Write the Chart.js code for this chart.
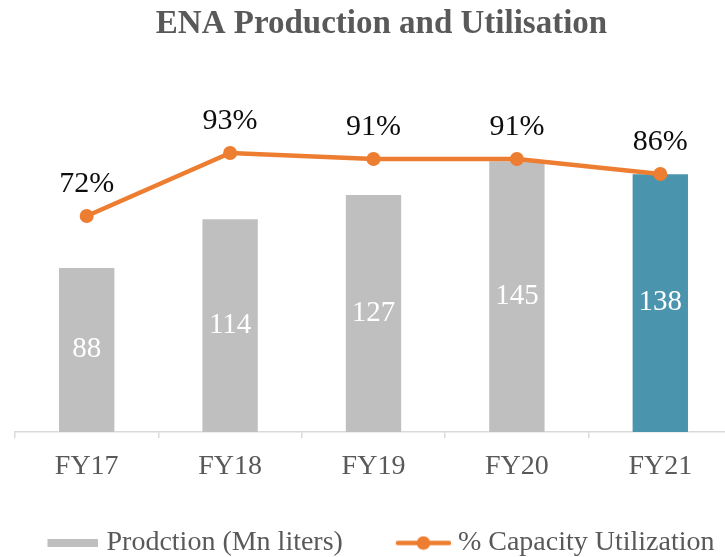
<!DOCTYPE html>
<html>
<head>
<meta charset="utf-8">
<script src="https://cdn.jsdelivr.net/npm/chart.js@4/dist/chart.umd.min.js"></script>
<style>
  html, body { margin: 0; padding: 0; background: #ffffff; }
  #wrap { width: 725px; height: 557px; overflow: hidden; position: relative; }
  #c { display: block; }
</style>
</head>
<body>
<div id="wrap"><canvas id="c" width="763" height="567" style="width:763px;height:567px"></canvas></div>
<script>
// ---- data ----
const categories = ['FY17', 'FY18', 'FY19', 'FY20', 'FY21'];
const production = [88, 114, 127, 145, 138];
const utilisation = [72, 93, 91, 91, 86];
const seriesNames = ['Prodction (Mn liters)', '% Capacity Utilization'];
const chartTitle = 'ENA Production and Utilisation';

// ---- styles ----
const FONT = "'Liberation Serif', 'Times New Roman', serif";
const GRAY = '#BFBFBF';
const TEAL = '#4A94AE';
const ORANGE = '#ED7D31';
const TEXT = '#595959';

// legend swatches (transparent left margin shifts the visible mark toward its text)
function makeBarSwatch() {
  const c = document.createElement('canvas');
  c.width = 88; c.height = 8;
  const x = c.getContext('2d');
  x.fillStyle = GRAY; x.fillRect(37, 0, 51, 8);
  return c;
}
function makeLineSwatch() {
  const c = document.createElement('canvas');
  c.width = 90; c.height = 15;
  const x = c.getContext('2d');
  x.strokeStyle = ORANGE; x.lineWidth = 4.5; x.lineCap = 'round';
  x.beginPath(); x.moveTo(37, 7.5); x.lineTo(88, 7.5); x.stroke();
  x.fillStyle = ORANGE;
  x.beginPath(); x.arc(62.5, 7.5, 6.8, 0, Math.PI * 2); x.fill();
  return c;
}
const swatches = [makeBarSwatch(), makeLineSwatch()];

// nudge the legend row left so it sits where the original did
const legendShift = {
  id: 'legendShift',
  afterLayout(chart) {
    const lg = chart.legend;
    if (lg) { lg.left -= 16; lg.right -= 16; }
  }
};

const labelPlugin = {
  id: 'valueLabels',
  afterDatasetsDraw(chart) {
    const ctx = chart.ctx;
    ctx.save();
    ctx.textAlign = 'center';
    ctx.textBaseline = 'middle';
    const barMeta = chart.getDatasetMeta(0);
    ctx.font = `29px ${FONT}`;
    ctx.fillStyle = '#FFFFFF';
    barMeta.data.forEach((el, i) => {
      ctx.fillText(String(production[i]), el.x, (el.y + el.base) / 2);
    });
    const lineMeta = chart.getDatasetMeta(1);
    ctx.font = `30px ${FONT}`;
    ctx.fillStyle = '#0D0D0D';
    lineMeta.data.forEach((el, i) => {
      ctx.fillText(utilisation[i] + '%', el.x, el.y - 32);
    });
    ctx.restore();
  }
};

new Chart(document.getElementById('c'), {
  type: 'bar',
  data: {
    labels: categories,
    datasets: [
      {
        type: 'bar',
        label: seriesNames[0],
        data: production,
        yAxisID: 'y',
        backgroundColor: (c) => (c.dataIndex === categories.length - 1 ? TEAL : GRAY),
        borderColor: 'rgba(255,255,255,0.35)',
        borderWidth: 1,
        categoryPercentage: 1.0,
        barPercentage: 0.4,
        order: 2
      },
      {
        type: 'line',
        label: seriesNames[1],
        data: utilisation,
        yAxisID: 'y1',
        borderColor: ORANGE,
        backgroundColor: ORANGE,
        borderWidth: 4.5,
        pointRadius: 7,
        pointHoverRadius: 7,
        pointBackgroundColor: ORANGE,
        pointBorderColor: ORANGE,
        pointBorderWidth: 0,
        tension: 0,
        order: 1
      }
    ]
  },
  options: {
    responsive: false,
    animation: false,
    devicePixelRatio: 1,
    layout: { padding: 0 },
    plugins: {
      tooltip: { enabled: false },
      title: {
        display: true,
        text: chartTitle,
        color: TEXT,
        font: { family: FONT, size: 33, weight: 'bold' },
        padding: { top: 5, bottom: 87.4 }
      },
      legend: {
        display: true,
        position: 'bottom',
        labels: {
          color: TEXT,
          font: { family: FONT, size: 28 },
          usePointStyle: true,
          pointStyleWidth: 76,
          padding: 25,
          generateLabels: () => seriesNames.map((t, i) => ({
            text: t,
            pointStyle: swatches[i],
            fillStyle: i === 0 ? GRAY : ORANGE,
            strokeStyle: i === 0 ? GRAY : ORANGE,
            lineWidth: 0,
            hidden: false,
            datasetIndex: i,
            fontColor: TEXT
          }))
        }
      }
    },
    scales: {
      x: {
        type: 'category',
        offset: true,
        grid: {
          offset: true,
          drawOnChartArea: false,
          drawTicks: true,
          tickLength: 6,
          color: '#D9D9D9',
          lineWidth: 1.5
        },
        border: { display: true, color: '#D9D9D9', width: 1.5 },
        ticks: {
          color: TEXT,
          font: { family: FONT, size: 28 },
          padding: 12,
          maxRotation: 0,
          autoSkip: false
        },
        afterFit: (s) => { s.height = 72; }
      },
      y: {
        position: 'left',
        min: 0,
        max: 160,
        ticks: { display: false },
        grid: { display: false },
        border: { display: false },
        afterFit: (s) => { s.width = 15; }
      },
      y1: {
        position: 'right',
        min: 0,
        max: 100,
        ticks: { display: false },
        grid: { display: false },
        border: { display: false },
        afterFit: (s) => { s.width = 31; }
      }
    }
  },
  plugins: [labelPlugin, legendShift]
});
</script>
</body>
</html>
